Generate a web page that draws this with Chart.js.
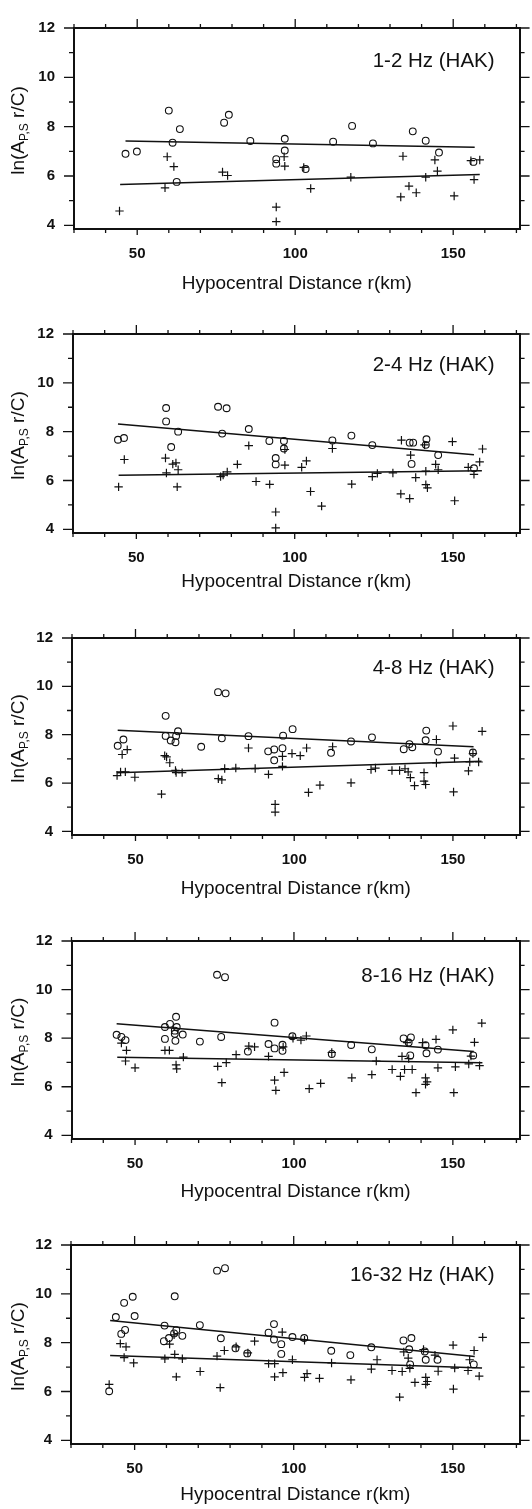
<!DOCTYPE html>
<html><head><meta charset="utf-8">
<script src="https://cdn.jsdelivr.net/npm/chart.js@4.4.0/dist/chart.umd.min.js"></script>
<style>
html,body{margin:0;padding:0;background:#fff;overflow:hidden;}
#wrap{position:relative;width:532px;height:1509px;background:#fff;}
canvas{position:absolute;left:0;}
</style></head><body><div id="wrap"></div>
<script>
// ---------- tick values / labels ----------
const xTickValues = [30,40,50,60,70,80,90,100,110,120,130,140,150,160,170];
const xMajorTicks = [50,100,150];
const yTickValues = [4,5,6,7,8,9,10,11,12];
const yMajorTicks = [4,6,8,10,12];
const bandLabels = ['1-2 Hz (HAK)','2-4 Hz (HAK)','4-8 Hz (HAK)','8-16 Hz (HAK)','16-32 Hz (HAK)'];
const xTitle = 'Hypocentral Distance r(km)';

// ---------- panel 1: 1-2 Hz ----------
const p1CircleX = [46.3,49.9,60.0,61.2,63.5,62.5,77.5,79.0,85.8,94.0,94.0,96.7,96.7,103.3,112.0,118.0,124.6,137.2,141.3,145.5,156.4];
const p1CircleY = [6.90,6.99,8.65,7.35,7.90,5.76,8.16,8.48,7.42,6.68,6.50,7.51,7.03,6.28,7.39,8.03,7.32,7.81,7.43,6.95,6.57];
const p1CrossX = [44.4,59.5,61.6,58.8,77.0,78.6,94.0,94.0,96.5,96.7,102.7,104.9,117.6,134.1,133.4,136.0,138.3,141.3,144.2,145.0,150.3,155.6,158.4,156.6];
const p1CrossY = [4.58,6.78,6.38,5.52,6.16,6.02,4.74,4.15,6.78,6.40,6.35,5.49,5.95,6.80,5.15,5.59,5.32,5.95,6.65,6.20,5.19,6.62,6.65,5.85];
const p1CircleFitX = [46.3,156.8], p1CircleFitY = [7.42,7.16];
const p1CrossFitX = [44.6,158.4], p1CrossFitY = [5.65,6.06];

// ---------- panel 2: 2-4 Hz ----------
const p2CircleX = [44.2,46.1,59.4,59.4,61.0,63.2,75.8,78.5,77.1,85.5,92.0,94.0,94.0,96.6,96.6,111.9,117.9,124.5,136.3,137.4,136.9,141.6,141.4,145.3,156.6];
const p2CircleY = [7.67,7.74,8.97,8.42,7.37,8.00,9.02,8.96,7.92,8.11,7.62,6.92,6.66,7.62,7.31,7.64,7.84,7.45,7.55,7.55,6.68,7.69,7.46,7.04,6.50];
const p2CrossX = [44.4,46.2,59.2,59.5,61.5,62.5,63.2,62.9,76.6,77.4,78.7,81.9,85.5,87.8,92.1,94.0,94.0,96.9,96.9,102.2,103.7,105.0,108.5,111.9,118.0,124.5,126.1,131.0,133.7,133.5,136.6,136.3,138.2,141.0,141.4,141.4,141.9,144.5,145.3,149.8,150.5,154.8,156.6,158.4,159.3];
const p2CrossY = [5.74,6.86,6.92,6.31,6.67,6.72,6.44,5.74,6.16,6.22,6.35,6.66,7.43,5.96,5.84,4.71,4.06,7.27,6.63,6.54,6.80,5.55,4.95,7.31,5.85,6.16,6.29,6.31,7.65,5.45,7.04,5.26,6.12,7.46,6.38,5.83,5.70,6.66,6.44,7.59,5.17,6.54,6.25,6.76,7.29];
const p2CircleFitX = [44.2,156.6], p2CircleFitY = [8.31,7.05];
const p2CrossFitX = [44.4,159.1], p2CrossFitY = [6.22,6.40];

// ---------- panel 3: 4-8 Hz ----------
const p3CircleX = [44.4,46.2,59.5,59.5,61.1,62.6,62.8,63.4,70.7,76.0,78.4,77.2,85.6,91.8,93.7,93.7,96.3,96.5,99.5,111.6,117.9,124.5,134.5,136.3,137.2,141.6,141.4,145.3,156.3];
const p3CircleY = [7.54,7.80,8.78,7.95,7.76,7.69,7.95,8.14,7.50,9.76,9.71,7.85,7.94,7.31,7.39,6.94,7.44,7.96,8.23,7.25,7.72,7.89,7.40,7.61,7.48,8.17,7.77,7.30,7.26];
const p3CrossX = [44.2,45.3,45.8,47.4,46.8,49.8,58.2,59.2,59.8,60.8,62.6,62.8,64.7,76.1,77.2,78.1,81.6,85.6,87.7,91.9,94.0,94.0,96.3,96.3,99.3,101.9,103.9,104.5,108.1,112.1,117.9,124.2,125.6,130.8,133.2,134.9,135.9,136.6,137.9,140.9,140.9,141.4,144.8,144.8,150.0,150.5,150.2,154.9,155.3,158.1,159.2,156.3];
const p3CrossY = [6.31,6.46,7.18,7.38,6.46,6.24,5.54,7.13,7.08,6.84,6.52,6.43,6.43,6.18,6.13,6.60,6.62,7.45,6.60,6.36,5.12,4.80,7.10,6.69,7.22,7.13,7.45,5.61,5.91,7.50,6.01,6.56,6.62,6.52,6.52,6.59,6.46,6.22,5.89,6.43,6.08,5.94,7.80,6.83,8.36,7.03,5.63,6.50,6.87,6.87,8.14,7.22];
const p3CircleFitX = [44.4,156.5], p3CircleFitY = [8.18,7.50];
const p3CrossFitX = [44.2,159.0], p3CrossFitY = [6.43,6.90];

// ---------- panel 4: 8-16 Hz ----------
const p4CircleX = [44.2,45.7,47.0,59.4,59.4,61.0,62.5,62.9,63.1,62.7,62.5,65.0,70.4,75.8,78.3,77.1,85.5,92.0,93.9,93.9,96.4,96.4,99.5,111.9,118.0,124.5,134.5,136.1,136.8,136.6,141.4,141.7,145.3,156.4];
const p4CircleY = [8.14,8.05,7.92,8.46,7.97,8.59,8.31,8.88,8.46,7.89,8.18,8.15,7.86,10.61,10.51,8.05,7.45,7.76,7.58,8.64,7.73,7.48,8.08,7.35,7.72,7.54,7.99,7.82,8.03,7.29,7.71,7.38,7.53,7.29];
const p4CrossX = [45.7,47.3,47.0,50.0,59.4,60.8,62.9,63.1,65.2,76.0,77.3,78.7,81.8,85.8,87.6,92.0,93.9,94.3,96.6,96.9,99.7,102.2,103.9,104.8,108.4,111.9,118.2,124.5,125.9,130.9,133.5,134.0,134.8,135.6,136.1,137.2,138.4,140.5,141.4,141.4,141.9,144.7,145.3,150.0,150.8,150.3,155.0,155.7,156.8,158.4,159.1];
const p4CrossY = [7.80,7.50,7.06,6.78,7.50,7.50,6.90,6.74,7.22,6.84,6.17,6.99,7.32,7.67,7.64,7.25,6.27,5.85,7.64,6.59,7.99,7.92,8.09,5.92,6.14,7.41,6.37,6.50,7.06,6.71,6.43,7.25,6.71,7.82,7.16,6.71,5.76,7.82,6.37,6.10,6.20,7.95,6.78,8.34,6.82,5.76,6.94,7.26,7.83,6.87,8.62];
const p4CircleFitX = [44.2,156.6], p4CircleFitY = [8.59,7.45];
const p4CrossFitX = [44.4,159.3], p4CrossFitY = [7.22,6.99];

// ---------- panel 5: 16-32 Hz ----------
const p5CircleX = [42.0,44.1,45.8,47.0,46.7,49.4,50.0,59.4,59.2,60.8,62.4,62.6,63.1,65.0,70.5,75.9,78.4,77.1,81.7,85.4,92.1,93.8,93.8,96.1,96.1,99.6,103.3,111.8,117.8,124.4,134.5,137.0,136.3,136.6,141.2,141.5,145.2,156.6];
const p5CircleY = [6.01,9.05,8.36,8.52,9.63,9.88,9.09,8.70,8.06,8.19,8.38,9.90,8.51,8.28,8.72,10.95,11.05,8.18,7.77,7.56,8.41,8.76,8.13,7.94,7.54,8.23,8.19,7.67,7.49,7.81,8.09,8.19,7.73,7.11,7.64,7.30,7.30,7.11];
const p5CrossX = [42.0,45.5,47.3,46.7,49.7,59.5,61.0,62.4,62.6,63.1,65.0,70.6,75.9,76.9,78.2,81.9,85.6,87.7,92.1,94.0,94.0,96.4,96.6,99.6,103.4,103.4,104.2,108.1,111.9,118.0,124.4,126.2,130.9,133.3,134.1,134.6,136.0,136.5,138.1,140.8,141.5,141.5,142.0,144.4,145.4,150.1,150.6,150.2,154.8,155.3,156.7,158.3,159.4];
const p5CrossY = [6.29,7.96,7.83,7.39,7.17,7.34,7.94,8.32,7.52,6.60,7.34,6.82,7.45,6.16,7.68,7.83,7.58,8.06,7.14,7.14,6.60,8.43,6.77,7.30,8.10,6.58,6.73,6.54,7.17,6.48,6.92,7.30,6.86,5.77,6.82,7.62,7.37,6.95,6.37,7.72,6.58,6.29,6.41,7.49,6.83,7.90,6.96,6.10,6.86,7.30,7.68,6.63,8.22];
const p5CircleFitX = [42.3,156.9], p5CircleFitY = [8.91,7.43];
const p5CrossFitX = [42.3,159.2], p5CrossFitY = [7.47,6.96];

// ---------- assemble ----------
const panelData = [
  [p1CircleX,p1CircleY,p1CrossX,p1CrossY,p1CircleFitX,p1CircleFitY,p1CrossFitX,p1CrossFitY],
  [p2CircleX,p2CircleY,p2CrossX,p2CrossY,p2CircleFitX,p2CircleFitY,p2CrossFitX,p2CrossFitY],
  [p3CircleX,p3CircleY,p3CrossX,p3CrossY,p3CircleFitX,p3CircleFitY,p3CrossFitX,p3CrossFitY],
  [p4CircleX,p4CircleY,p4CrossX,p4CrossY,p4CircleFitX,p4CircleFitY,p4CrossFitX,p4CrossFitY],
  [p5CircleX,p5CircleY,p5CrossX,p5CrossY,p5CircleFitX,p5CircleFitY,p5CrossFitX,p5CrossFitY]
];

// layout (pixels): canvas top/height, plot area edges, text offsets
const panelLayout = [
  {top:0,    h:300, left:74,   right:527, aTop:12, aBottom:229, titleOff:54.5, annOff:39},
  {top:306,  h:300, left:73,   right:525, aTop:12, aBottom:227, titleOff:49,   annOff:37},
  {top:610,  h:300, left:72,   right:523, aTop:12, aBottom:225, titleOff:54,   annOff:36},
  {top:913,  h:300, left:71.5, right:522, aTop:12, aBottom:226, titleOff:52.5, annOff:41},
  {top:1217, h:292, left:71,   right:522, aTop:12, aBottom:227, titleOff:51,   annOff:36}
];

const INK = '#111';
const FONT = '"Liberation Sans", Arial, Helvetica, sans-serif';
const pts = (xs, ys) => xs.map((x, i) => ({x: x, y: ys[i]}));
const setTicks = vals => scale => { scale.ticks = vals.map(v => ({value: v})); };

function makeDecor(i) {
  const L = panelLayout[i];
  return {
    id: 'decor' + i,
    afterDraw(chart) {
      const {ctx, chartArea: a, scales} = chart;
      const x = scales.x, y = scales.y;
      ctx.save();
      ctx.strokeStyle = INK;
      ctx.lineWidth = 1.3;
      ctx.beginPath();
      xTickValues.forEach(v => {
        const px = x.getPixelForValue(v);
        const major = xMajorTicks.includes(v);
        ctx.moveTo(px, a.bottom); ctx.lineTo(px, a.bottom + (major ? 6 : 4));
        ctx.moveTo(px, a.top);    ctx.lineTo(px, a.top - (major ? 9 : 4));
      });
      yTickValues.forEach(v => {
        const py = y.getPixelForValue(v);
        const major = yMajorTicks.includes(v);
        ctx.moveTo(a.left, py);  ctx.lineTo(a.left - (major ? 10 : 5), py);
        ctx.moveTo(a.right, py); ctx.lineTo(a.right + (major ? 10 : 5), py);
      });
      ctx.stroke();

      // band label (top right)
      ctx.fillStyle = INK;
      ctx.font = '20.5px ' + FONT;
      ctx.textAlign = 'right';
      ctx.textBaseline = 'alphabetic';
      ctx.fillText(bandLabels[i], a.right - 25, a.top + L.annOff);

      // y axis title with subscript
      const big = '19px ' + FONT, small = '12px ' + FONT;
      const parts = [['ln(A', big, 0], ['P,S', small, 3.5], [' r/C)', big, 0]];
      let total = 0;
      parts.forEach(p => { ctx.font = p[1]; p.push(ctx.measureText(p[0]).width); total += p[3]; });
      ctx.translate(24, (a.top + a.bottom) / 2 + 2);
      ctx.rotate(-Math.PI / 2);
      ctx.textAlign = 'left';
      let cx = -total / 2;
      parts.forEach(p => { ctx.font = p[1]; ctx.fillText(p[0], cx, p[2]); cx += p[3]; });
      ctx.restore();
    }
  };
}

const wrap = document.getElementById('wrap');
panelData.forEach((d, i) => {
  const L = panelLayout[i];
  const cv = document.createElement('canvas');
  cv.width = 532; cv.height = L.h;
  cv.style.top = L.top + 'px';
  cv.style.width = '532px'; cv.style.height = L.h + 'px';
  wrap.appendChild(cv);

  const titleMid = L.aBottom + L.titleOff;
  const titlePadBottom = L.h - 9.5 - titleMid;

  new Chart(cv.getContext('2d'), {
    type: 'scatter',
    data: {
      datasets: [
        {data: pts(d[0], d[1]), pointStyle: 'circle', pointRadius: 3.4, pointHoverRadius: 3.4,
         borderColor: INK, backgroundColor: 'rgba(0,0,0,0)', borderWidth: 1.1},
        {data: pts(d[2], d[3]), pointStyle: 'cross', pointRadius: 4.2, pointHoverRadius: 4.2,
         borderColor: INK, backgroundColor: INK, borderWidth: 1.2},
        {data: pts(d[4], d[5]), showLine: true, pointRadius: 0, borderColor: INK, borderWidth: 1.5, fill: false},
        {data: pts(d[6], d[7]), showLine: true, pointRadius: 0, borderColor: INK, borderWidth: 1.5, fill: false}
      ]
    },
    options: {
      responsive: false,
      animation: false,
      devicePixelRatio: 1,
      layout: {padding: 0},
      plugins: {legend: {display: false}, tooltip: {enabled: false}, title: {display: false}},
      events: [],
      scales: {
        x: {
          type: 'linear', position: 'bottom', min: 30, max: 171,
          afterBuildTicks: setTicks(xTickValues),
          afterFit: s => { s.height = L.h - L.aBottom; },
          grid: {display: false, drawTicks: false},
          border: {display: true, color: INK, width: 2},
          ticks: {autoSkip: false, maxRotation: 0, padding: 15.5, color: INK,
                  font: {family: FONT, size: 15, weight: 'bold'},
                  callback: v => xMajorTicks.includes(v) ? String(v) : ''},
          title: {display: true, text: xTitle, color: INK,
                  font: {family: FONT, size: 19, lineHeight: 1},
                  padding: {top: 0, bottom: titlePadBottom}}
        },
        x2: {
          type: 'linear', position: 'top', min: 30, max: 171,
          afterBuildTicks: setTicks(xTickValues),
          afterFit: s => { s.height = L.aTop; },
          grid: {display: false, drawTicks: false},
          border: {display: true, color: INK, width: 2},
          ticks: {display: false}
        },
        y: {
          type: 'linear', position: 'left', min: 3.85, max: 12,
          afterBuildTicks: setTicks(yTickValues),
          afterFit: s => { s.width = L.left; },
          grid: {display: false, drawTicks: false},
          border: {display: true, color: INK, width: 2},
          ticks: {autoSkip: false, padding: 19, color: INK,
                  font: {family: FONT, size: 15, weight: 'bold'},
                  callback: v => yMajorTicks.includes(v) ? String(v) : ''}
        },
        y2: {
          type: 'linear', position: 'right', min: 3.85, max: 12,
          afterBuildTicks: setTicks(yTickValues),
          afterFit: s => { s.width = 532 - L.right; },
          grid: {display: false, drawTicks: false},
          border: {display: true, color: INK, width: 2},
          ticks: {display: false}
        }
      }
    },
    plugins: [makeDecor(i)]
  });
});
</script>
</body></html>
